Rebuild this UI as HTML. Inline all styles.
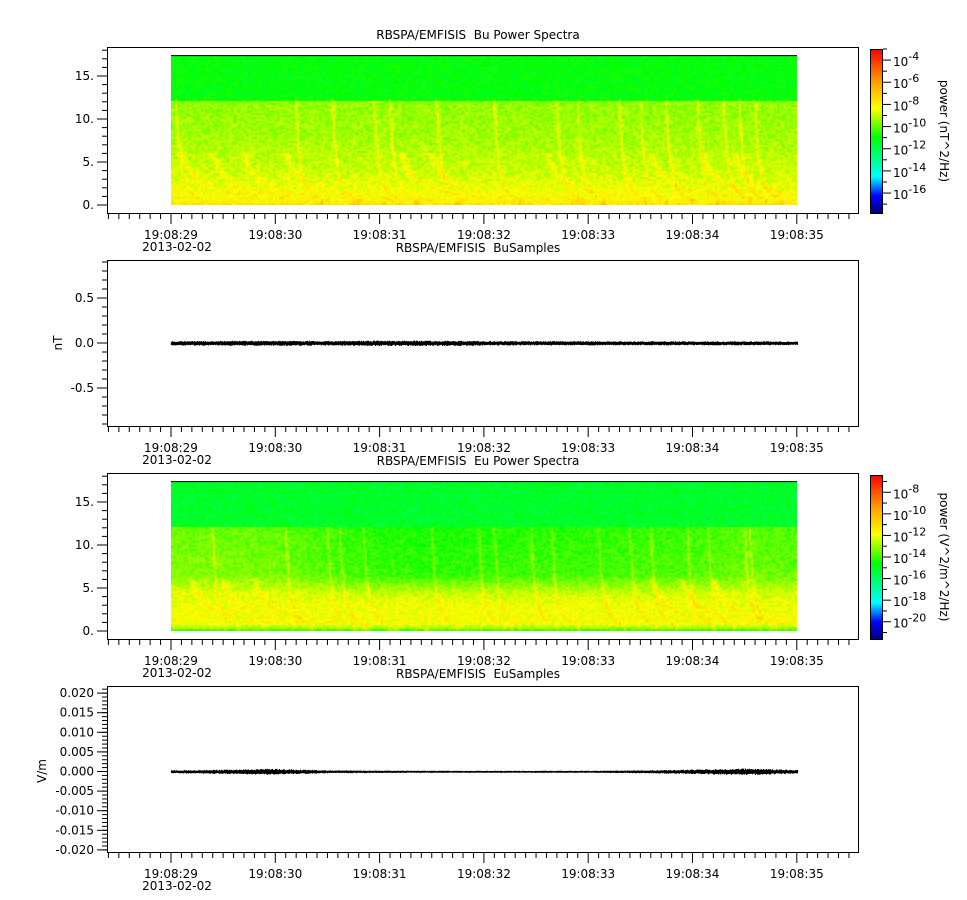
<!DOCTYPE html>
<html><head><meta charset="utf-8">
<style>
html,body{margin:0;padding:0;background:#fff;}
#wrap{position:relative;width:967px;height:900px;overflow:hidden;font-family:"DejaVu Sans","Liberation Sans",sans-serif;}
canvas{position:absolute;}
svg{position:absolute;left:0;top:0;}
svg text{white-space:pre;}
</style></head>
<body>
<div id="wrap">
<canvas id="spec1" style="left:171px;top:55px" width="626" height="150"></canvas>
<canvas id="spec2" style="left:171px;top:481px" width="626" height="150"></canvas>
<canvas id="cb1" style="left:871px;top:49px" width="12" height="164"></canvas>
<canvas id="cb2" style="left:871px;top:475px" width="12" height="164"></canvas>
<svg id="svg" width="967" height="900"></svg>
</div>
<script>
// ---- data ----
const timeTicks = [29,30,31,32,33,34,35];
const timeTickLabels = ["19:08:29","19:08:30","19:08:31","19:08:32","19:08:33","19:08:34","19:08:35"];
const dateLabel = "2013-02-02";
const freqTicks = [0,5,10,15];
const freqTickLabels = ["0.","5.","10.","15."];
const buTicks = [-0.5,0,0.5];
const buTickLabels = ["-0.5","0.0","0.5"];
const euTicks = [-0.02,-0.015,-0.01,-0.005,0,0.005,0.01,0.015,0.02];
const euTickLabels = ["-0.020","-0.015","-0.010","-0.005","0.000","0.005","0.010","0.015","0.020"];
const cb1Exps = [-16,-14,-12,-10,-8,-6,-4];
const cb2Exps = [-20,-18,-16,-14,-12,-10,-8];
// spectral base levels (log10 power) vs frequency kHz
const buBaseFreq = [0,0.5,2,4,8,12.2];
const buBaseLevel = [-7.7,-8.1,-8.5,-8.9,-9.3,-9.5];
const buUpperLevel = -11.1;
const buStreakTimes = [29.05,30.2,30.55,30.95,31.1,31.55,32.1,32.7,32.9,33.3,33.5,33.75,34.05,34.3,34.45,34.6];
const buArcTimes = [29.1,29.4,29.7,30.1,31.2,31.5,32.6,33.6,34.1,34.4];
const euBaseFreq = [0,0.3,0.8,3,4.5,6.5,12];
const euBaseLevel = [-14.2,-13.0,-11.9,-12.0,-12.4,-13.6,-13.9];
const euUpperLevel = -15.2;
const euMidTimeOffset = [0.4,0.4,0.3,-0.1,-0.4,-0.5,-0.4,-0.3,-0.3,-0.2,-0.1,0.2,0.1];
const euStreakTimes = [29.4,30.1,30.5,30.62,30.85,31.5,31.95,32.1,32.45,32.65,33.1,33.4,33.6,33.95,34.15,34.5,34.55];
const euArcTimes = [29.2,29.5,29.8,33.6,33.9,34.2];
// waveform envelopes, every 0.5 s from 29 to 35
const envTimes = [29,29.5,30,30.5,31,31.5,32,32.5,33,33.5,34,34.5,35];
const buEnv = [0.022,0.024,0.025,0.024,0.027,0.027,0.024,0.021,0.022,0.020,0.020,0.020,0.018];
const euEnv = [0.0003,0.0005,0.0007,0.0003,0.00025,0.0002,0.0002,0.0002,0.0002,0.0003,0.0005,0.0008,0.0004];

// ---- helpers ----
const X0=171, PXS=104.3;
const xT = t => X0 + (t-29)*PXS;
function interp(xs,ys,x){ if(x<=xs[0])return ys[0]; for(let i=1;i<xs.length;i++){ if(x<=xs[i]){const r=(x-xs[i-1])/(xs[i]-xs[i-1]);return ys[i-1]+r*(ys[i]-ys[i-1]);} } return ys[ys.length-1]; }
function hash(a,b,s){ let h=(a*374761393 + b*668265263 + s*982451653)|0; h=(h^(h>>>13))*1274126177|0; h=h^(h>>>16); return ((h>>>0)%10000)/10000; }
const stops=[[0,[0,0,128]],[0.1,[0,0,255]],[0.22,[0,255,255]],[0.46,[0,255,0]],[0.64,[255,255,0]],[0.8,[255,160,0]],[1,[255,0,0]]];
function cmap(v){ v=Math.max(0,Math.min(1,v)); for(let i=1;i<stops.length;i++){ if(v<=stops[i][0]){const a=stops[i-1],b=stops[i];const r=(v-a[0])/(b[0]-a[0]);return a[1].map((c,k)=>Math.round(c+r*(b[1][k]-c)));} } return stops[stops.length-1][1]; }

function drawSpec(id, base, upper, fCut, streaks, arcs, vmin, vmax, seed, midOff){
  const c=document.getElementById(id), ctx=c.getContext('2d');
  const img=ctx.createImageData(626,150);
  for(let j=0;j<150;j+=2){
    const f=17.45*(1-(j+1)/150);
    for(let i=0;i<626;i+=2){
      const t=29+(i+1)/PXS;
      let L;
      if(f>fCut) L=upper; else { L=interp(base[0],base[1],f); if(midOff){ const w=Math.max(0,Math.min(1,(f-3.5)/3)); L+=w*interp(envTimes,midOff,t);} }
      L+= (hash(i,j,seed)-0.5)*1.0;
      if(f<=fCut+0.1){
        for(const s of streaks){ const tt=s+0.25*(1/Math.sqrt(Math.max(f,0.6))-1/Math.sqrt(12)); const d=(t-tt)/0.012; if(Math.abs(d)<4) L+=0.9*Math.exp(-d*d); }
        if(f<6) for(const a of arcs){ const tt=a+0.9*(1/Math.max(f,0.5)-1/6); const d=(t-tt)/0.03; if(Math.abs(d)<4) L+=0.7*Math.exp(-d*d); }
      }
      const col=cmap((L-vmin)/(vmax-vmin));
      for(let dj=0;dj<2;dj++)for(let di=0;di<2;di++){ const x=i+di,y=j+dj; if(x>=626||y>=150)continue; const p=(y*626+x)*4; img.data[p]=col[0];img.data[p+1]=col[1];img.data[p+2]=col[2];img.data[p+3]=255; }
    }
  }
  ctx.putImageData(img,0,0);
  ctx.fillStyle='#000'; ctx.fillRect(0,0,626,1);
}
drawSpec('spec1',[buBaseFreq,buBaseLevel],buUpperLevel,12.2,buStreakTimes,buArcTimes,-17.8,-3.0,7,null);
drawSpec('spec2',[euBaseFreq,euBaseLevel],euUpperLevel,12.0,euStreakTimes,euArcTimes,-21.6,-6.4,13,euMidTimeOffset);
function drawCb(id){ const ctx=document.getElementById(id).getContext('2d'); for(let y=0;y<164;y++){ const col=cmap(1-y/163); ctx.fillStyle=`rgb(${col})`; ctx.fillRect(0,y,12,1);} }
drawCb('cb1'); drawCb('cb2');

// ---- svg axes ----
const NS='http://www.w3.org/2000/svg', svg=document.getElementById('svg');
function el(tag,attrs,parent){ const e=document.createElementNS(NS,tag); for(const k in attrs)e.setAttribute(k,attrs[k]); (parent||svg).appendChild(e); return e; }
function txt(x,y,s,anchor,size,parent){ const e=el('text',{x:x,y:y,'text-anchor':anchor||'middle','font-size':size||12,fill:'#000','font-family':'DejaVu Sans, Liberation Sans, sans-serif'},parent); e.textContent=s; return e; }

function panel(top, title, name){
  const g=el('g',{});
  
  
  const fr=el('rect',{x:107.5,y:top+0.5,width:751,height:166,fill:'none',stroke:'#000','stroke-width':1},g);
  
  
  const tt=txt(478,top-8,title,'middle',12,g);
  
  
  const bottom=top+166;
  const ax=el('g',{},g);
  
  
  for(let k=0;k<=78;k++){ const t=28.38+k*0.1; const tr=Math.round(t*10)/10; const x=xT(tr); if(x<108||x>858)continue; const major=Math.abs(tr-Math.round(tr))<1e-6; el('line',{x1:x,y1:bottom,x2:x,y2:bottom+(major?11:6),stroke:'#000'},ax); }
  timeTicks.forEach((t,i)=>{ txt(xT(t),bottom+26,timeTickLabels[i],'middle',12,ax); });
  const d=txt(xT(29)+6,bottom+38,dateLabel,'middle',12,ax);
  
  
  return g;
}
function yAxis(g,name,ticks,labels,yf,minorStep,lo,hi,top){
  const ay=el('g',{},g);
  
  
  const n=Math.round((hi-lo)/minorStep);
  for(let k=0;k<=n;k++){ const v=lo+k*minorStep; const y=yf(v); if(y<top||y>top+166)continue; el('line',{x1:107,y1:y,x2:102,y2:y,stroke:'#000'},ay); }
  ticks.forEach((v,i)=>{ const y=yf(v); el('line',{x1:107,y1:y,x2:97,y2:y,stroke:'#000'},ay); txt(94,y+4,labels[i],'end',12,ay); });
}
// panel 1
const g1=panel(47,'RBSPA/EMFISIS  Bu Power Spectra','bu-spectra-panel');
const yF1=v=>205-v*8.6;
yAxis(g1,'bu-spectra',freqTicks,freqTickLabels,yF1,1,-1,18,47);
// panel 2
const g2=panel(260,'RBSPA/EMFISIS  BuSamples','bu-samples-panel');
const yB=v=>343-v*90;
yAxis(g2,'bu-samples',buTicks,buTickLabels,yB,0.1,-1,1,260);
const l2=txt(62,343,'nT','middle',12,g2); l2.setAttribute('transform','rotate(-90 62 343)');
 
// panel 3
const g3=panel(473,'RBSPA/EMFISIS  Eu Power Spectra','eu-spectra-panel');
const yF3=v=>631-v*8.6;
yAxis(g3,'eu-spectra',freqTicks,freqTickLabels,yF3,1,-1,18,473);
// panel 4
const g4=panel(686,'RBSPA/EMFISIS  EuSamples','eu-samples-panel');
const yE=v=>771.5-v*3920;
yAxis(g4,'eu-samples',euTicks,euTickLabels,yE,0.001,-0.022,0.022,686);
const l4=txt(46,771,'V/m','middle',12,g4); l4.setAttribute('transform','rotate(-90 46 771)');
 

// waveforms
function wave(env,yf,name,seed){
  let d='';
  for(let x=171;x<=797;x+=1){ const t=29+(x-171)/PXS; const a=interp(envTimes,env,t); const r1=0.5+0.5*hash(x,1,seed), r2=0.5+0.5*hash(x,2,seed); d+=`M${x+0.5},${(yf(a*r1)).toFixed(1)}V${(yf(-a*r2)+0.6).toFixed(1)}`; }
  const p=el('path',{d:d,stroke:'#000','stroke-width':1.2,fill:'none'});
  
  
}
wave(buEnv,yB,'bu-waveform',3);
wave(euEnv,yE,'eu-waveform',5);

// colorbar axes
function cbAxis(top,exps,vmin,vmax,label,name){
  const g=el('g',{});
  
  
  el('rect',{x:870.5,y:top+0.5,width:12,height:164,fill:'none',stroke:'#000'},g);
  const yv=v=>top+164*(vmax-v)/(vmax-vmin);
  for(let v=Math.ceil(vmin);v<=vmax;v++){ const y=yv(v); const major=exps.includes(v); el('line',{x1:883,y1:y,x2:major?891:887,y2:y,stroke:'#000'},g); }
  exps.forEach(e=>{ const y=yv(e); const t=txt(893,y+6,'10','start',12,g); const s=el('tspan',{dy:-6,'font-size':11},t); s.textContent=String(e); });
  const l=txt(940,top+82,label,'middle',12,g); l.setAttribute('transform',`rotate(90 940 ${top+82})`);
   
}
cbAxis(49,cb1Exps,-17.8,-3.0,'power (nT^2/Hz)','bu-colorbar-axis');
cbAxis(475,cb2Exps,-21.6,-6.4,'power (V^2/m^2/Hz)','eu-colorbar-axis');
</script>
</body></html>
